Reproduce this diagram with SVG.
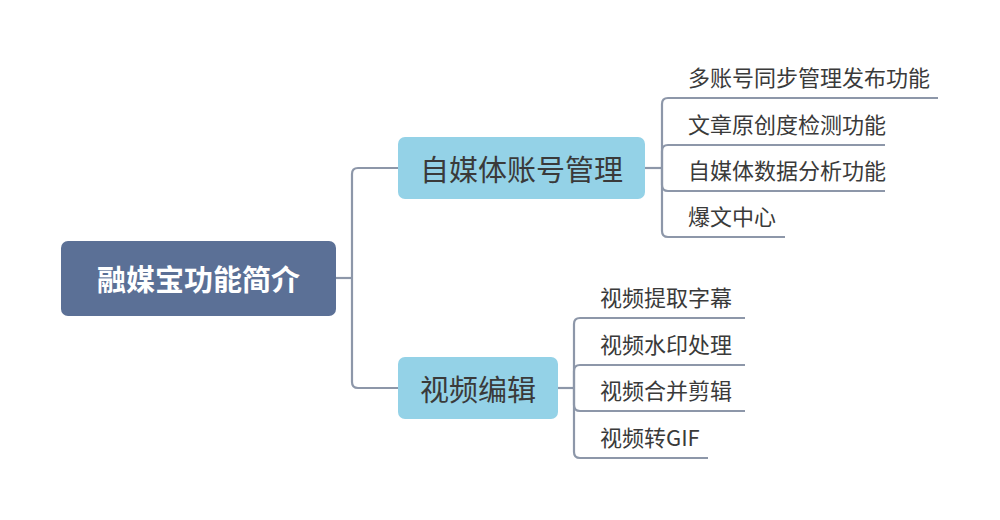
<svg xmlns="http://www.w3.org/2000/svg" width="1000" height="520" viewBox="0 0 1000 520">
<style>
.ln{fill:none;stroke:#8d97a9;stroke-width:2.2}
.t{font-family:"Noto Sans CJK SC","Noto Sans",sans-serif;fill:#3a3a3a}
.leaf{font-size:22px}
.mid{font-size:29px;text-anchor:middle;dominant-baseline:central}
.root{font-size:29px;font-weight:bold;fill:#ffffff;text-anchor:middle;dominant-baseline:central}
</style>
<rect width="1000" height="520" fill="#ffffff"/>
<g id="connectors">
<path class="ln" d="M336 278 H352"/>
<path class="ln" d="M352 278 V174 Q352 168 358 168 H398"/>
<path class="ln" d="M352 278 V382 Q352 388 358 388 H398"/>
<path class="ln" d="M645 168 H662"/>
<path class="ln" d="M662 168 V104 Q662 98 668 98 H938"/>
<path class="ln" d="M662 168 V151 Q662 145 668 145 H885"/>
<path class="ln" d="M662 168 V185 Q662 191 668 191 H885"/>
<path class="ln" d="M662 168 V231 Q662 237 668 237 H785"/>
<path class="ln" d="M558 388 H574"/>
<path class="ln" d="M574 388 V324 Q574 318 580 318 H745"/>
<path class="ln" d="M574 388 V371 Q574 365 580 365 H745"/>
<path class="ln" d="M574 388 V405 Q574 411 580 411 H745"/>
<path class="ln" d="M574 388 V452 Q574 458 580 458 H708"/>
</g>
<g id="root">
<rect x="61" y="241" width="275" height="75" rx="7" fill="#5b7096"/>
<text class="t root" x="198.5" y="278">融媒宝功能简介</text>
</g>
<g id="media">
<rect x="398" y="137" width="247" height="62" rx="7" fill="#94d2e7"/>
<text class="t mid" x="521.5" y="168">自媒体账号管理</text>
</g>
<g id="video">
<rect x="398" y="357" width="160" height="62" rx="7" fill="#94d2e7"/>
<text class="t mid" x="478" y="388">视频编辑</text>
</g>
<g id="m1"><text class="t leaf" x="688" y="86">多账号同步管理发布功能</text></g>
<g id="m2"><text class="t leaf" x="688" y="133">文章原创度检测功能</text></g>
<g id="m3"><text class="t leaf" x="688" y="179">自媒体数据分析功能</text></g>
<g id="m4"><text class="t leaf" x="688" y="225">爆文中心</text></g>
<g id="v1"><text class="t leaf" x="600" y="306">视频提取字幕</text></g>
<g id="v2"><text class="t leaf" x="600" y="353">视频水印处理</text></g>
<g id="v3"><text class="t leaf" x="600" y="399">视频合并剪辑</text></g>
<g id="v4"><text class="t leaf" x="600" y="446">视频转GIF</text></g>
</svg>
